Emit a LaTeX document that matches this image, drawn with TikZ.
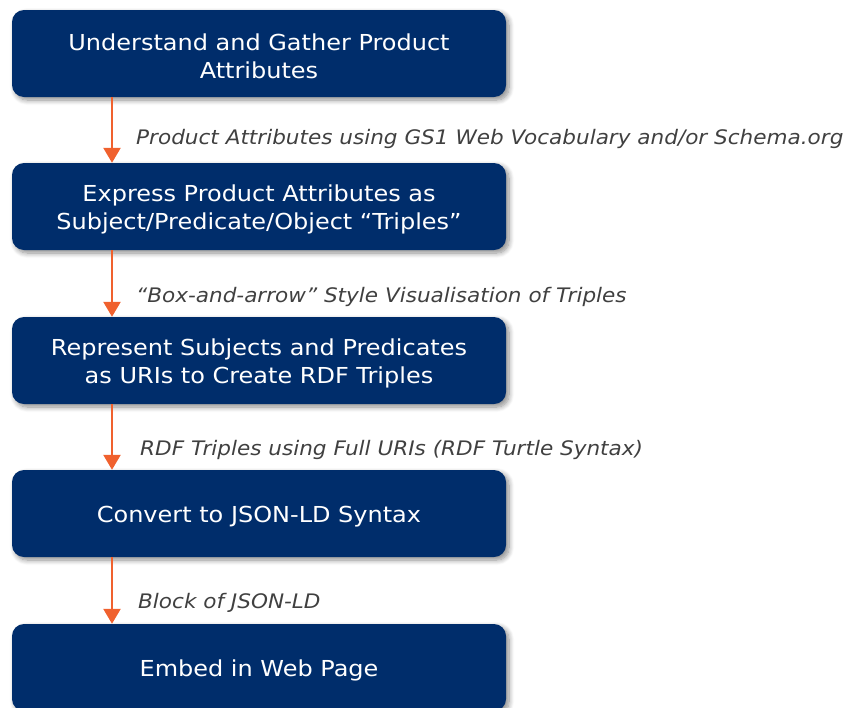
\documentclass[tikz,border=0pt]{standalone}
\usepackage{fontspec}
\setmainfont{DejaVu Sans}
\newfontfamily\boxfont[FakeStretch=1.09]{DejaVu Sans}
\newfontfamily\labfont[FakeStretch=1.078]{DejaVu Sans}
\usetikzlibrary{arrows.meta,shadows.blur}
\definecolor{navy}{HTML}{002D6B}
\definecolor{orng}{HTML}{F0612E}
\definecolor{lbl}{HTML}{404040}
\tikzset{
  stepbox/.style={draw=none, fill=navy, rounded corners=12pt, minimum width=494pt, minimum height=87pt,
    inner sep=0pt,
    blur shadow={shadow xshift=3pt, shadow yshift=-3pt, shadow blur radius=5pt, shadow blur steps=8, shadow opacity=45}},
  boxtext/.style={text=white, align=center, inner sep=0pt, yshift=-3pt, font=\boxfont\fontsize{22}{28}\selectfont},
  flow/.style={draw=orng, line width=2.5pt, -{Triangle[width=17pt,length=15pt]}, shorten >=0pt},
  lab/.style={anchor=west, text=lbl, inner sep=0pt, font=\labfont\fontsize{20}{22}\selectfont\itshape}
}
\begin{document}
\begin{tikzpicture}[x=1pt,y=1pt]
\useasboundingbox (0,0) rectangle (850,-707);
\node[stepbox, label={[boxtext]center:{Understand and Gather Product\\Attributes}}] (b1) at (259,-53.5) {};
\node[stepbox, label={[boxtext]center:{Express Product Attributes as\\Subject/Predicate/Object “Triples”}}] (b2) at (259,-206.5) {};
\node[stepbox, label={[boxtext]center:{Represent Subjects and Predicates\\as URIs to Create RDF Triples}}] (b3) at (259,-360.5) {};
\node[stepbox, label={[boxtext]center:{Convert to JSON-LD Syntax}}] (b4) at (259,-513.5) {};
\node[stepbox, label={[boxtext]center:{Embed in Web Page}}] (b5) at (259,-667.5) {};
\foreach \a/\b in {b1/b2,b2/b3,b3/b4,b4/b5}{
  \draw[flow] (\a.south -| 112,0) -- (\b.north -| 112,0);
}
\node[lab] (l1) at (136,-139) {Product Attributes using GS1 Web Vocabulary and/or Schema.org};
\node[lab] (l2) at (136,-297) {“Box-and-arrow” Style Visualisation of Triples};
\node[lab] (l3) at (140,-450) {RDF Triples using Full URIs (RDF Turtle Syntax)};
\node[lab] (l4) at (138,-603) {Block of JSON-LD};
\end{tikzpicture}
\end{document}
